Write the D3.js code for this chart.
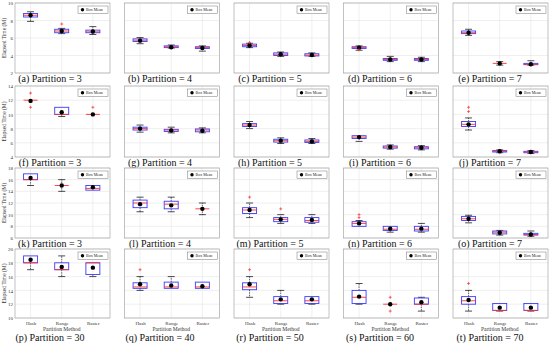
<!DOCTYPE html>
<html><head><meta charset="utf-8">
<script src="https://cdn.jsdelivr.net/npm/d3@7"></script>
<style>body{margin:0;background:#fff}svg{display:block}</style>
</head><body><svg id="c" width="550" height="344"></svg>
<script>
const categories = ["Hash", "Range", "Raster"];
const panelTitles = [
  "(a) Partition = 3","(b) Partition = 4","(c) Partition = 5","(d) Partition = 6","(e) Partition = 7",
  "(f) Partition = 3","(g) Partition = 4","(h) Partition = 5","(i) Partition = 6","(j) Partition = 7",
  "(k) Partition = 3","(l) Partition = 4","(m) Partition = 5","(n) Partition = 6","(o) Partition = 7",
  "(p) Partition = 30","(q) Partition = 40","(r) Partition = 50","(s) Partition = 60","(t) Partition = 70"];
const rowDomains = [[2, 10], [4, 14], [6, 18], [10, 20]];
const rowTicks = [[2,4,6,8,10],[4,6,8,10,12,14],[6,8,10,12,14,16,18],[10,12,14,16,18,20]];
// per panel: [Hash, Range, Raster]
const whiskerLow = [
  [7.9,6.5,6.4],[5.35,4.85,4.5],[4.9,3.9,3.9],[4.6,3.3,3.3],[6.3,2.9,2.9],
  [12,9.7,10],[7.5,7.4,7.4],[8.0,5.9,5.9],[6.2,5.1,5.0],[7.8,4.6,4.5],
  [15,14,14.2],[10.5,10.5,10],[9.5,8.5,8.5],[8,7,7],[8.6,6.5,6.3],
  [17,16,16],[14,14.3,14.3],[13,12,12],[12,12,11],[11,11,11]];
const q1 = [
  [8.4,6.6,6.6],[5.6,4.9,4.8],[5.0,4.0,3.95],[4.8,3.45,3.45],[6.5,3.1,2.95],
  [12,10,10],[7.8,7.6,7.55],[8.3,6.1,6.05],[6.6,5.25,5.15],[8.3,4.7,4.6],
  [16,15,14.2],[11.2,11,11],[10.2,8.8,8.7],[8,7.3,7.2],[9.0,6.7,6.5],
  [18,17,16.3],[14.3,14.3,14.3],[14.1,12.1,12.1],[12.1,12,12],[12,11.1,11.1]];
const median = [
  [8.6,6.8,6.7],[5.75,5.0,4.9],[5.15,4.15,4.05],[4.9,3.55,3.55],[6.6,3.1,3.0],
  [12,10,10],[8.0,7.8,7.8],[8.5,6.3,6.2],[6.8,5.4,5.3],[8.6,4.8,4.7],
  [16,15,14.5],[12,11.8,11],[10.8,9.2,9.0],[8.5,7.5,7.5],[9.3,7.0,6.6],
  [18,17,18],[14.5,14.5,14.5],[14.5,12.5,12.5],[13,12,12],[12.5,11.1,11.1]];
const q3 = [
  [8.8,7.0,6.9],[5.9,5.1,5.0],[5.3,4.3,4.2],[5.0,3.65,3.65],[6.8,3.1,3.1],
  [12,11,10],[8.2,7.9,7.95],[8.7,6.5,6.4],[7.0,5.55,5.45],[9.0,4.9,4.8],
  [17,15,15],[12.5,12.3,11],[11.2,9.5,9.5],[8.8,8,8],[9.7,7.2,6.8],
  [19,18,18],[15.1,15.2,15.2],[15.1,13.1,13.1],[14,12,12.9],[13.1,12.1,12.1]];
const whiskerHigh = [
  [9.0,7.1,7.3],[6.05,5.2,5.1],[5.4,4.4,4.3],[5.1,3.9,3.8],[7.0,3.3,3.4],
  [12,11,10],[8.5,8.2,8.1],[9.0,6.7,6.6],[7.0,5.7,5.6],[9.5,5.0,4.9],
  [17,16,15],[13,13,12],[12,10,10],[9,8,8.5],[9.9,7.3,7.2],
  [19,19,18],[16,16,15.2],[16,14,13.1],[15,12,13],[14,12.1,12.1]];
const means = [
  [8.6,6.8,6.75],[5.7,4.95,4.85],[5.15,4.15,4.05],[4.9,3.55,3.55],[6.6,3.1,3.0],
  [11.9,10.3,10],[8.0,7.75,7.7],[8.5,6.3,6.2],[6.8,5.4,5.3],[8.6,4.8,4.7],
  [16.3,15,14.7],[11.8,11.6,11],[10.8,9.2,9.1],[8.5,7.6,7.6],[9.3,6.9,6.6],
  [18.45,17.4,17.3],[14.9,14.7,14.6],[14.9,12.7,12.7],[13.1,12,12.3],[12.6,11.5,11.5]];
// outliers: [panel, category index, value]
const outliers = [
  [0,1,7.6],[2,0,5.5],[3,0,4.65],
  [5,0,13],[5,0,11],[5,2,11],[9,0,11],[9,0,10.4],
  [12,0,13],[12,1,11],[13,0,9.5],[13,0,10],
  [16,0,17],[17,0,17],[18,1,13],[18,1,11],[19,0,15]];

const svg = d3.select("#c");
const colLeft = [15, 124.5, 234, 343.5, 453];
const plotW = 95;
const rowTop = [3, 86, 168, 249];
const rowBot = [73, 157, 238, 318];
const titleY = [82, 166, 247, 341];
const serif = "'Liberation Serif', 'DejaVu Serif', serif";
const boxColor = "#3b3bff", medColor = "#ff3030";

for (let p = 0; p < 20; p++) {
  const r = Math.floor(p / 5), c = p % 5;
  const x0 = colLeft[c], y0 = rowTop[r], y1 = rowBot[r];
  const x = d3.scaleLinear().domain([0.5, 3.55]).range([x0, x0 + plotW]);
  const y = d3.scaleLinear().domain(rowDomains[r]).range([y1, y0]);
  const g = svg.append("g");
  g.append("rect").attr("x", x0).attr("y", y0).attr("width", plotW).attr("height", y1 - y0)
    .attr("fill", "#fff");
  g.selectAll(".gy").data(rowTicks[r]).join("line")
    .attr("x1", x0).attr("x2", x0 + plotW).attr("y1", d => y(d)).attr("y2", d => y(d))
    .attr("stroke", "#e4e4e4").attr("stroke-width", 0.6);
  g.selectAll(".gx").data([1, 2, 3]).join("line")
    .attr("x1", d => x(d)).attr("x2", d => x(d)).attr("y1", y0).attr("y2", y1)
    .attr("stroke", "#e4e4e4").attr("stroke-width", 0.6);
  if (c === 0) {
    const ax = g.append("g").attr("transform", `translate(${x0},0)`)
      .call(d3.axisLeft(y).tickValues(rowTicks[r]).tickSize(0).tickPadding(2));
    ax.select(".domain").remove();
    ax.selectAll("text").attr("font-family", serif).attr("font-size", 5).attr("fill", "#333");
    g.append("text").attr("transform", `translate(6,${(y0 + y1) / 2}) rotate(-90)`)
      .attr("text-anchor", "middle").attr("font-family", serif).attr("font-size", 5.5)
      .attr("fill", "#333").text("Elapsed Time (M)");
  }
  if (r === 3) {
    const ax = g.append("g").attr("transform", `translate(0,${y1})`)
      .call(d3.axisBottom(x).tickValues([1, 2, 3]).tickFormat(d => categories[d - 1]).tickSize(0).tickPadding(3));
    ax.select(".domain").remove();
    ax.selectAll("text").attr("font-family", serif).attr("font-size", 5).attr("fill", "#333");
    g.append("text").attr("x", x(2)).attr("y", 331).attr("text-anchor", "middle")
      .attr("font-family", serif).attr("font-size", 5.5).attr("fill", "#333").text("Partition Method");
  }
  const bw = 14, cw = 7;
  categories.forEach((cat, i) => {
    const cx = x(i + 1);
    const lo = whiskerLow[p][i], a = q1[p][i], m = median[p][i], b = q3[p][i], hi = whiskerHigh[p][i];
    g.append("line").attr("x1", cx).attr("x2", cx).attr("y1", y(b)).attr("y2", y(hi))
      .attr("stroke", "#000").attr("stroke-width", 0.6).attr("stroke-dasharray", "1.5,1");
    g.append("line").attr("x1", cx).attr("x2", cx).attr("y1", y(a)).attr("y2", y(lo))
      .attr("stroke", "#000").attr("stroke-width", 0.6).attr("stroke-dasharray", "1.5,1");
    if (hi > b) g.append("line").attr("x1", cx - cw / 2).attr("x2", cx + cw / 2).attr("y1", y(hi)).attr("y2", y(hi))
      .attr("stroke", "#000").attr("stroke-width", 0.7);
    if (lo < a) g.append("line").attr("x1", cx - cw / 2).attr("x2", cx + cw / 2).attr("y1", y(lo)).attr("y2", y(lo))
      .attr("stroke", "#000").attr("stroke-width", 0.7);
    g.append("rect").attr("x", cx - bw / 2).attr("y", y(b)).attr("width", bw).attr("height", Math.max(0, y(a) - y(b)))
      .attr("fill", "none").attr("stroke", boxColor).attr("stroke-width", 0.9);
    g.append("line").attr("x1", cx - bw / 2).attr("x2", cx + bw / 2).attr("y1", y(m)).attr("y2", y(m))
      .attr("stroke", medColor).attr("stroke-width", 0.9);
    g.append("circle").attr("cx", cx).attr("cy", y(means[p][i])).attr("r", 2.2).attr("fill", "#000");
  });
  outliers.filter(o => o[0] === p).forEach(o => {
    const cx = x(o[1] + 1), cy = y(o[2]);
    g.append("path").attr("d", `M${cx - 1.5},${cy}H${cx + 1.5}M${cx},${cy - 1.5}V${cy + 1.5}`)
      .attr("stroke", medColor).attr("stroke-width", 0.7);
  });
  g.append("rect").attr("x", x0).attr("y", y0).attr("width", plotW).attr("height", y1 - y0)
    .attr("fill", "none").attr("stroke", "#999").attr("stroke-width", 0.6);
  const lx = x0 + plotW - 32, ly = y0 + 3;
  g.append("rect").attr("x", lx).attr("y", ly).attr("width", 30).attr("height", 7.5)
    .attr("fill", "#fff").attr("stroke", "#777").attr("stroke-width", 0.5);
  g.append("circle").attr("cx", lx + 4.5).attr("cy", ly + 3.75).attr("r", 1.7).attr("fill", "#000");
  g.append("text").attr("x", lx + 8).attr("y", ly + 5.3).attr("font-family", serif)
    .attr("font-size", 4).attr("fill", "#222").text("Box Mean");
  svg.append("text").attr("x", 50 + c * 110).attr("y", titleY[r]).attr("text-anchor", "middle")
    .attr("font-family", serif).attr("font-size", 10).attr("fill", "#111").text(panelTitles[p]);
}
</script></body></html>
